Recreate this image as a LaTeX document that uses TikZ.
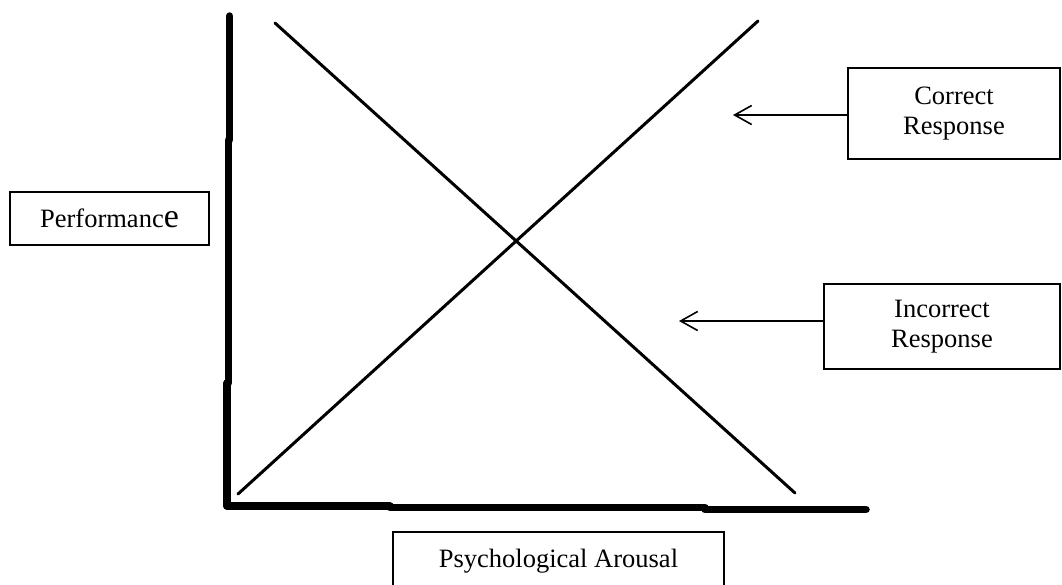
\documentclass[tikz,border=0pt]{standalone}
\usepackage{fontspec}
\setmainfont{Liberation Serif}
\usetikzlibrary{arrows.meta}

\begin{document}
\begin{tikzpicture}[x=1pt,y=-1pt,
  axisline/.style={line width=7.5pt,line cap=round},
  curveline/.style={line width=3pt,line cap=round},
  labelbox/.style={draw,line width=1.8pt,inner sep=0pt,align=center,
    font=\fontsize{26.5}{30}\selectfont},
  pointer/.style={line width=1.6pt,
    -{Straight Barb[length=17pt,width=19pt,line width=1.6pt]}}]
  \useasboundingbox (0,0) rectangle (1062,584);
  \clip (0,0) rectangle (1062,584);

  % axes, drawn in a few slightly offset strokes
  \coordinate (ytop) at (229.7,16);
  \coordinate (origin) at (227,506);
  \coordinate (xend) at (866,509.5);
  \draw[axisline] (ytop) -- (229.7,140);
  \draw[axisline] (228.3,140) -- (228.3,383);
  \draw[axisline] (227,383) -- (origin);
  \draw[axisline] (origin) -- (390,506);
  \draw[axisline] (390,507.5) -- (705,507.5);
  \draw[axisline] (705,509.5) -- (xend);

  % the two response lines
  \coordinate (upA) at (238,494);
  \coordinate (upB) at (758,21);
  \coordinate (downA) at (275,23);
  \coordinate (downB) at (795,493);
  \draw[curveline] (upA) -- (upB);
  \draw[curveline] (downA) -- (downB);

  % labels
  \node[labelbox,minimum width=212pt,minimum height=91pt] (correct)
    at (954,113.5) {Correct\\Response};
  \node[labelbox,minimum width=236pt,minimum height=85pt] (incorrect)
    at (942,326.5) {Incorrect\\Response};
  \node[labelbox,minimum width=199pt,minimum height=53pt] (perf)
    at (109.5,218.5) {Performanc{\fontsize{34}{34}\selectfont e}};
  \node[labelbox,minimum width=331pt,minimum height=58pt] (arousal)
    at (558.5,561) {Psychological Arousal};

  % pointers
  \coordinate (ctip) at (733,115);
  \coordinate (itip) at (679,321);
  \draw[pointer] (correct.west |- ctip) -- (ctip);
  \draw[pointer] (incorrect.west |- itip) -- (itip);
\end{tikzpicture}
\end{document}
